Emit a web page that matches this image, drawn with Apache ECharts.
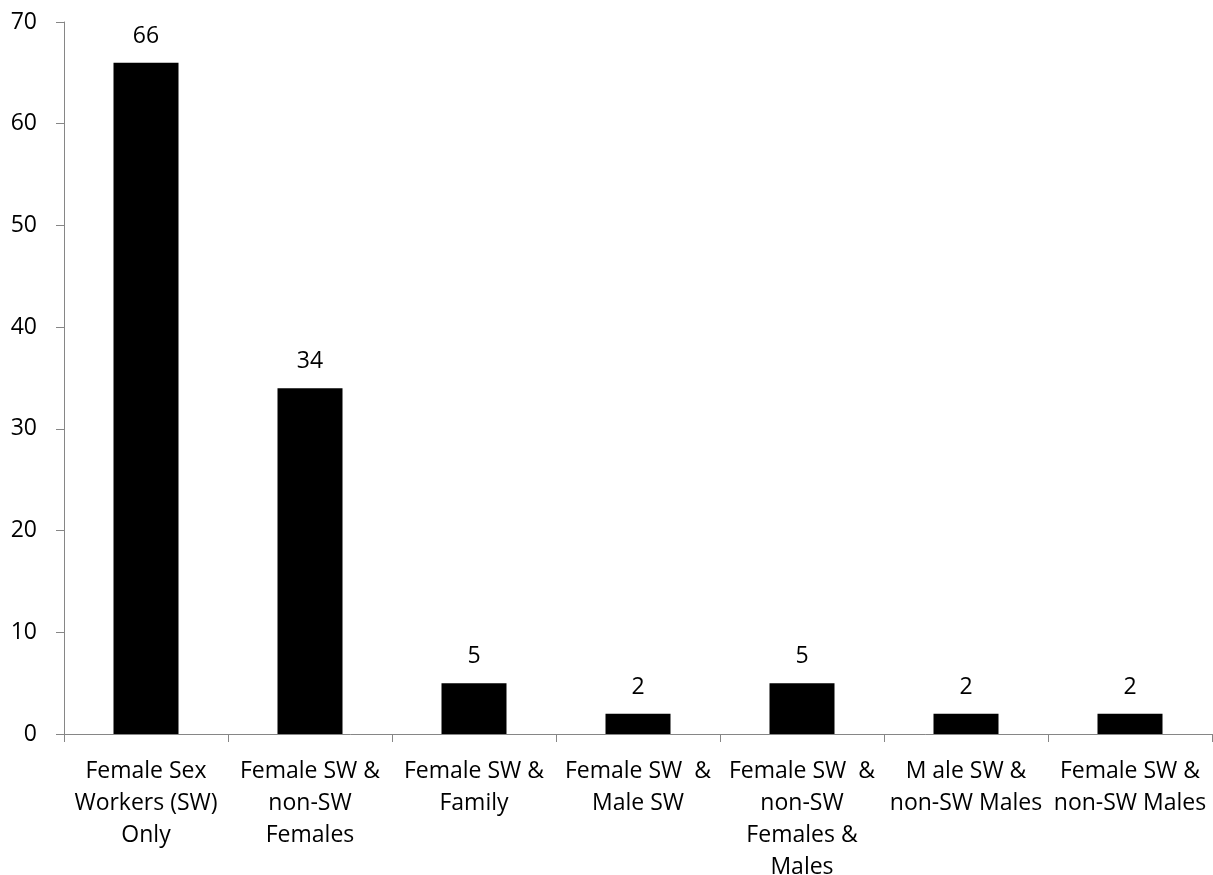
<!DOCTYPE html>
<html>
<head>
<meta charset="utf-8">
<script src="https://cdn.jsdelivr.net/npm/echarts@6/dist/echarts.min.js"></script>
<style>
  html, body { margin: 0; padding: 0; background: #fff; overflow: hidden; }
  #chart { width: 1213px; height: 875px; }
</style>
</head>
<body>
<div id="chart"></div>
<script>
// Partner groups and their counts
const categories = [
  'Female Sex\nWorkers (SW)\nOnly',
  'Female SW &\nnon-SW\nFemales',
  'Female SW &\nFamily',
  'Female SW  &\nMale SW',
  'Female SW  &\nnon-SW\nFemales &\nMales',
  'M ale SW &\nnon-SW Males',
  'Female SW &\nnon-SW Males'
];
const counts = [66, 34, 5, 2, 5, 2, 2];
const yTicks = { min: 0, max: 70, interval: 10 };

const fontFamily = '"Open Sans", "Noto Sans", sans-serif';
const axisGrey = '#868686';

const chart = echarts.init(document.getElementById('chart'), null, { renderer: 'canvas' });
chart.setOption({
  animation: false,
  backgroundColor: '#ffffff',
  grid: {
    left: 64, right: 1, top: 22, bottom: 141,
    containLabel: false,
    outerBoundsMode: 'none'
  },
  xAxis: {
    type: 'category',
    data: categories,
    axisLine: { lineStyle: { color: axisGrey, width: 1 } },
    axisTick: { show: true, length: 8, lineStyle: { color: axisGrey } },
    axisLabel: {
      interval: 0,
      margin: 21,
      color: '#000',
      fontSize: 23,
      lineHeight: 32,
      fontFamily: fontFamily
    }
  },
  yAxis: {
    type: 'value',
    min: yTicks.min,
    max: yTicks.max,
    interval: yTicks.interval,
    axisLine: { show: true, lineStyle: { color: axisGrey, width: 1 } },
    axisTick: { show: true, length: 8, lineStyle: { color: axisGrey } },
    splitLine: { show: false },
    axisLabel: { margin: 27, color: '#000', fontSize: 23, fontFamily: fontFamily }
  },
  series: [{
    type: 'bar',
    data: counts,
    barWidth: 65,
    itemStyle: { color: '#000000' },
    label: {
      show: true,
      position: 'top',
      distance: 15,
      color: '#000',
      fontSize: 23,
      fontFamily: fontFamily
    }
  }]
});
</script>
</body>
</html>
